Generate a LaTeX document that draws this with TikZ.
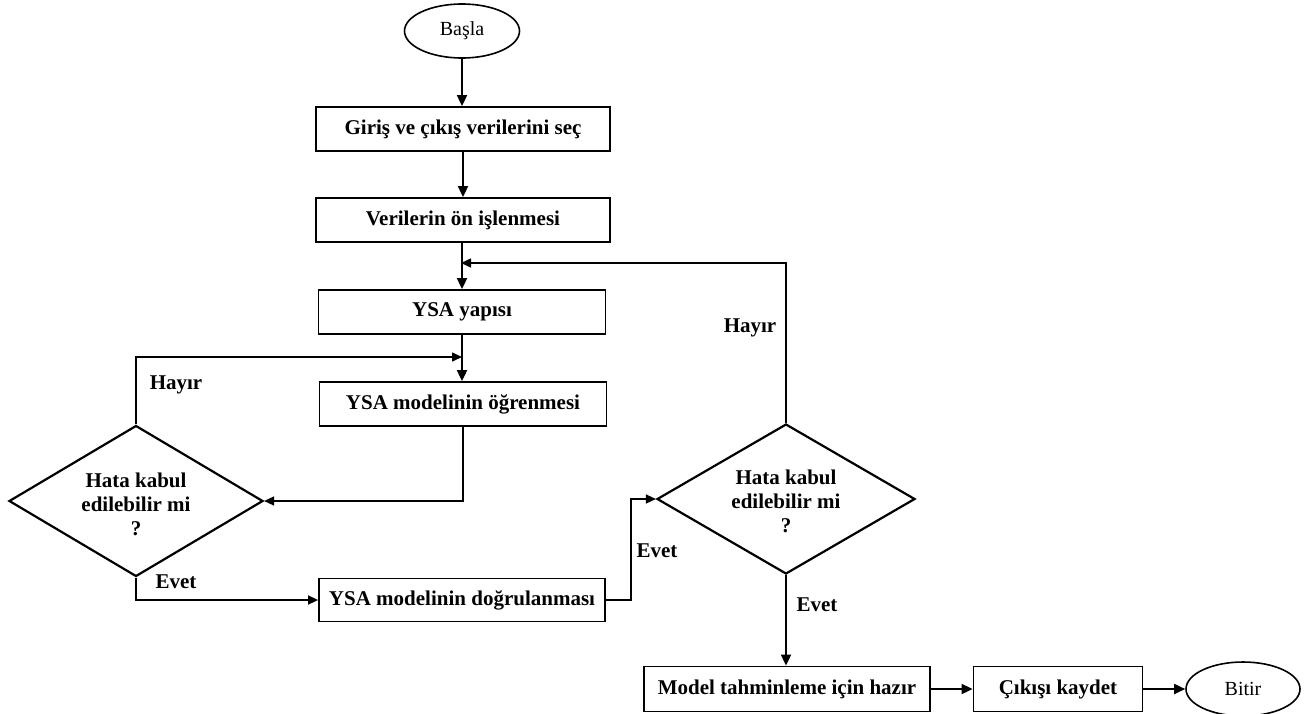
\documentclass[tikz,border=0pt]{standalone}
\usepackage{fontspec}
\setmainfont{Liberation Serif}
\usetikzlibrary{shapes.geometric,arrows.meta}
\begin{document}
\begin{tikzpicture}[x=1pt,y=-1pt,
  txt/.style={font=\fontsize{21}{24}\selectfont\bfseries},
  box/.style={draw,line width=1.8pt,rectangle,minimum width=294pt,minimum height=44pt,inner sep=0pt,txt},
  term/.style={draw,line width=1.6pt,ellipse,minimum width=115pt,minimum height=54pt,inner sep=0pt,font=\fontsize{20}{24}\selectfont},
  dec/.style={draw,line width=2.2pt,diamond,minimum width=256pt,minimum height=150pt,inner sep=0pt},
  dtxt/.style={txt,align=center,inner sep=0pt},
  arr/.style={line width=1.8pt,-{Triangle[length=11pt,width=10pt]}},
  fb/.style={line width=1.5pt,-{Triangle[length=10pt,width=9pt]}},
  lbl/.style={txt}
]
\useasboundingbox (0,0) rectangle (1308,713);
\node[term] (start) at (462,31) {Başla};
\node[box] (b1) at (463,129) {Giriş ve çıkış verilerini seç};
\node[box] (b2) at (463,220) {Verilerin ön işlenmesi};
\node[box,minimum width=287pt] (b3) at (462,312) {YSA yapısı};
\node[box,minimum width=287pt] (b4) at (463,404) {YSA modelinin öğrenmesi};
\node[dec,minimum width=254pt,minimum height=151pt] (d1) at (136,501) {};
\node[dtxt] (t1) at (136,504) {Hata kabul\\edilebilir mi\\?};
\node[box,minimum width=286pt,minimum height=43pt] (b5) at (462,600) {YSA modelinin doğrulanması};
\node[dec,minimum width=258pt] (d2) at (786,499) {};
\node[dtxt] (t2) at (786,501) {Hata kabul\\edilebilir mi\\?};
\node[box,minimum width=286pt,minimum height=45pt] (b6) at (787,689) {Model tahminleme için hazır};
\node[box,minimum width=169pt,minimum height=45pt] (b7) at (1058,689) {Çıkışı kaydet};
\node[term,minimum width=114pt] (end) at (1243,689) {Bitir};

\coordinate (j1) at (462,263);
\coordinate (j2) at (462,357);
\coordinate (k) at (631,600);

\draw[arr] (start.south) -- (start.south |- b1.north);
\draw[arr] (b1) -- (b2);
\draw[arr] (j1 |- b2.south) -- (j1 |- b3.north);
\draw[arr] (j2 |- b3.south) -- (j2 |- b4.north);
\draw[fb,shorten >=-1pt] (d2.north) |- (j1);
\draw[fb] (d1.north) |- (j2);
\draw[fb] (b4.south) |- (d1.east);
\draw[fb] (d1.south) |- (b5.west);
\draw[fb] (b5.east) -- (k) |- (d2.west);
\draw[arr] (d2.south) -- (d2.south |- b6.north);
\draw[arr] (b6) -- (b7);
\draw[arr] (b7) -- (end);

\node[lbl] (l1) at (176,385) {Hayır};
\node[lbl] (l2) at (176,582) {Evet};
\node[lbl] (l3) at (657,551) {Evet};
\node[lbl] (l4) at (750,328) {Hayır};
\node[lbl] (l5) at (817,605) {Evet};
\end{tikzpicture}
\end{document}
